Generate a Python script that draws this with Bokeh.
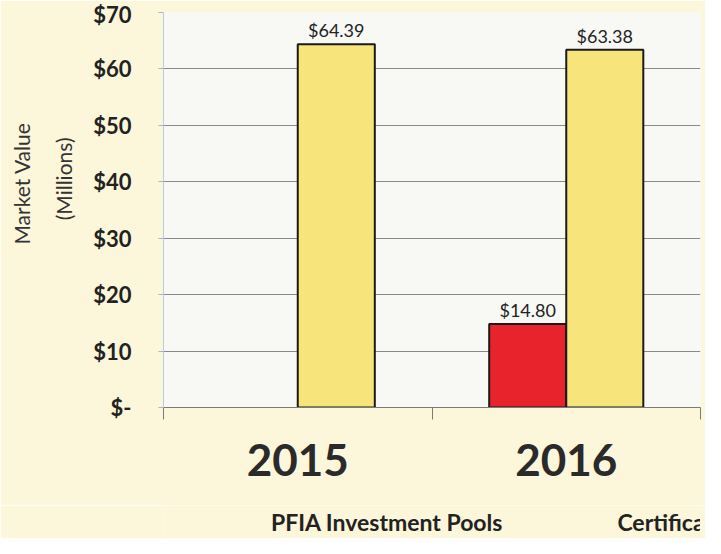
import math
from bokeh.plotting import figure
from bokeh.layouts import column
from bokeh.models import (FactorRange, ColumnDataSource, LabelSet, Legend, LegendItem,
                          FixedTicker, LinearAxis, CategoricalAxis, CategoricalTicker, Title)
from bokeh.core.properties import value
from bokeh.transform import dodge
from bokeh.embed import file_html
from bokeh.resources import INLINE

years = ["2015", "2016"]
pfia = [float("nan"), 14.80]   # no PFIA holdings in 2015
cds = [64.39, 63.38]
pfia_labels = ["", "$14.80"]
cd_labels = ["$64.39", "$63.38"]
y_ticks = [0, 10, 20, 30, 40, 50, 60, 70]
y_tick_labels = ["$-", "$10", "$20", "$30", "$40", "$50", "$60", "$70"]
series_names = ["PFIA Investment Pools", "Certificates of Deposit"]

FONT = "Lato"
BG = "#fcf6da"
RED = "#e8232b"
YEL = "#f7e47a"

src = ColumnDataSource(dict(years=years, pfia=pfia, cds=cds,
                            pfia_labels=pfia_labels, cd_labels=cd_labels))

p = figure(x_range=FactorRange(factors=years), y_range=(0, 70),
           width=705, height=505, output_backend="svg", toolbar_location=None,
           x_axis_location=None, min_border_left=163, min_border_right=5,
           min_border_top=12, min_border_bottom=98)
p.background_fill_color = "#f8f8f4"
p.border_fill_color = BG
p.outline_line_color = None

off = 0.1435
w = 0.287
r1 = p.vbar(x=dodge("years", -off, range=p.x_range), top="pfia", width=w, source=src,
            fill_color=RED, line_color="#1a1a1a", line_width=2)
r2 = p.vbar(x=dodge("years", off, range=p.x_range), top="cds", width=w, source=src,
            fill_color=YEL, line_color="#1a1a1a", line_width=2)

lab1 = LabelSet(x=dodge("years", -off, range=p.x_range), y="pfia", text="pfia_labels",
                source=src, text_align="center", text_baseline="bottom", y_offset=3,
                text_font=value(FONT), text_font_size="18px", text_color="#222222")
lab2 = LabelSet(x=dodge("years", off, range=p.x_range), y="cds", text="cd_labels",
                source=src, text_align="center", text_baseline="bottom", y_offset=3,
                text_font=value(FONT), text_font_size="18px", text_color="#222222")
p.add_layout(lab1)
p.add_layout(lab2)

# y axis
ya = p.yaxis[0]
ya.ticker = FixedTicker(ticks=y_ticks)
ya.major_label_overrides = {t: l for t, l in zip(y_ticks, y_tick_labels)}
ya.major_label_text_font = FONT
ya.major_label_text_font_style = "bold"
ya.major_label_text_font_size = "22px"
ya.major_label_text_color = "#222222"
ya.major_tick_out = 5
ya.major_tick_in = 0
ya.major_tick_line_color = "#9ab8d8"
ya.minor_tick_line_color = None
ya.axis_line_color = "#b8cce0"
ya.major_label_standoff = 27

# y axis title: two side titles, shifted down from the frame top
has_standoff = "standoff" in Title.properties()
t_mill = Title(text="(Millions)", align="right", offset=125,
               text_font=FONT, text_font_size="21px", text_font_style="normal",
               text_color="#333333")
t_mv = Title(text="Market Value", align="right", offset=110,
             text_font=FONT, text_font_size="21px", text_font_style="normal",
             text_color="#333333")
if has_standoff:
    t_mill.standoff = 30
    t_mv.standoff = 0
p.add_layout(t_mill, "left")
p.add_layout(t_mv, "left")

p.ygrid.grid_line_color = "#8a8a8a"
p.ygrid.grid_line_width = 1
p.xgrid.grid_line_color = None

# boundary tick marks axis (closest to frame)
tick_axis = LinearAxis(ticker=FixedTicker(ticks=[0, 1, 2]),
                       major_label_overrides={0: "", 1: "", 2: ""},
                       major_label_text_font_size="1px", major_label_standoff=0,
                       major_tick_out=12, major_tick_in=0,
                       major_tick_line_color="#7a7a7a", minor_tick_line_color=None,
                       axis_line_color="#7a7a7a", axis_line_width=1)
p.add_layout(tick_axis, "below")

cat_axis = CategoricalAxis(ticker=CategoricalTicker(),
                           major_label_text_font=FONT,
                           major_label_text_font_style="bold",
                           major_label_text_font_size="44px",
                           major_label_text_color="#2a2a2a",
                           major_tick_line_color=None, axis_line_color=None,
                           major_label_standoff=18)
p.add_layout(cat_axis, "below")

# legend strip: a small figure below the chart that holds only the legend
lp = figure(width=705, height=33, output_backend="svg", toolbar_location=None,
            x_axis_location=None, y_axis_location=None,
            min_border=0, min_border_left=0, min_border_right=0,
            min_border_top=0, min_border_bottom=0)
lp.background_fill_color = BG
lp.border_fill_color = BG
lp.outline_line_color = None
lp.xgrid.grid_line_color = None
lp.ygrid.grid_line_color = None
lr1 = lp.vbar(x=[], top=[], width=1, fill_color=RED, line_color="#1a1a1a", line_width=2)
lr2 = lp.vbar(x=[], top=[], width=1, fill_color=YEL, line_color="#1a1a1a", line_width=2)

legend = Legend(items=[LegendItem(label=series_names[0], renderers=[lr1]),
                       LegendItem(label=series_names[1], renderers=[lr2])],
                orientation="horizontal", location=(88, 2),
                label_text_font=FONT, label_text_font_style="bold",
                label_text_font_size="23px", label_text_color="#222222",
                glyph_width=15, glyph_height=15, spacing=95, padding=0, margin=0,
                label_standoff=5, background_fill_alpha=0, border_line_color=None)
lp.add_layout(legend)

layout = column(p, lp, spacing=0)
open("out.html", "w").write(file_html(layout, INLINE))
